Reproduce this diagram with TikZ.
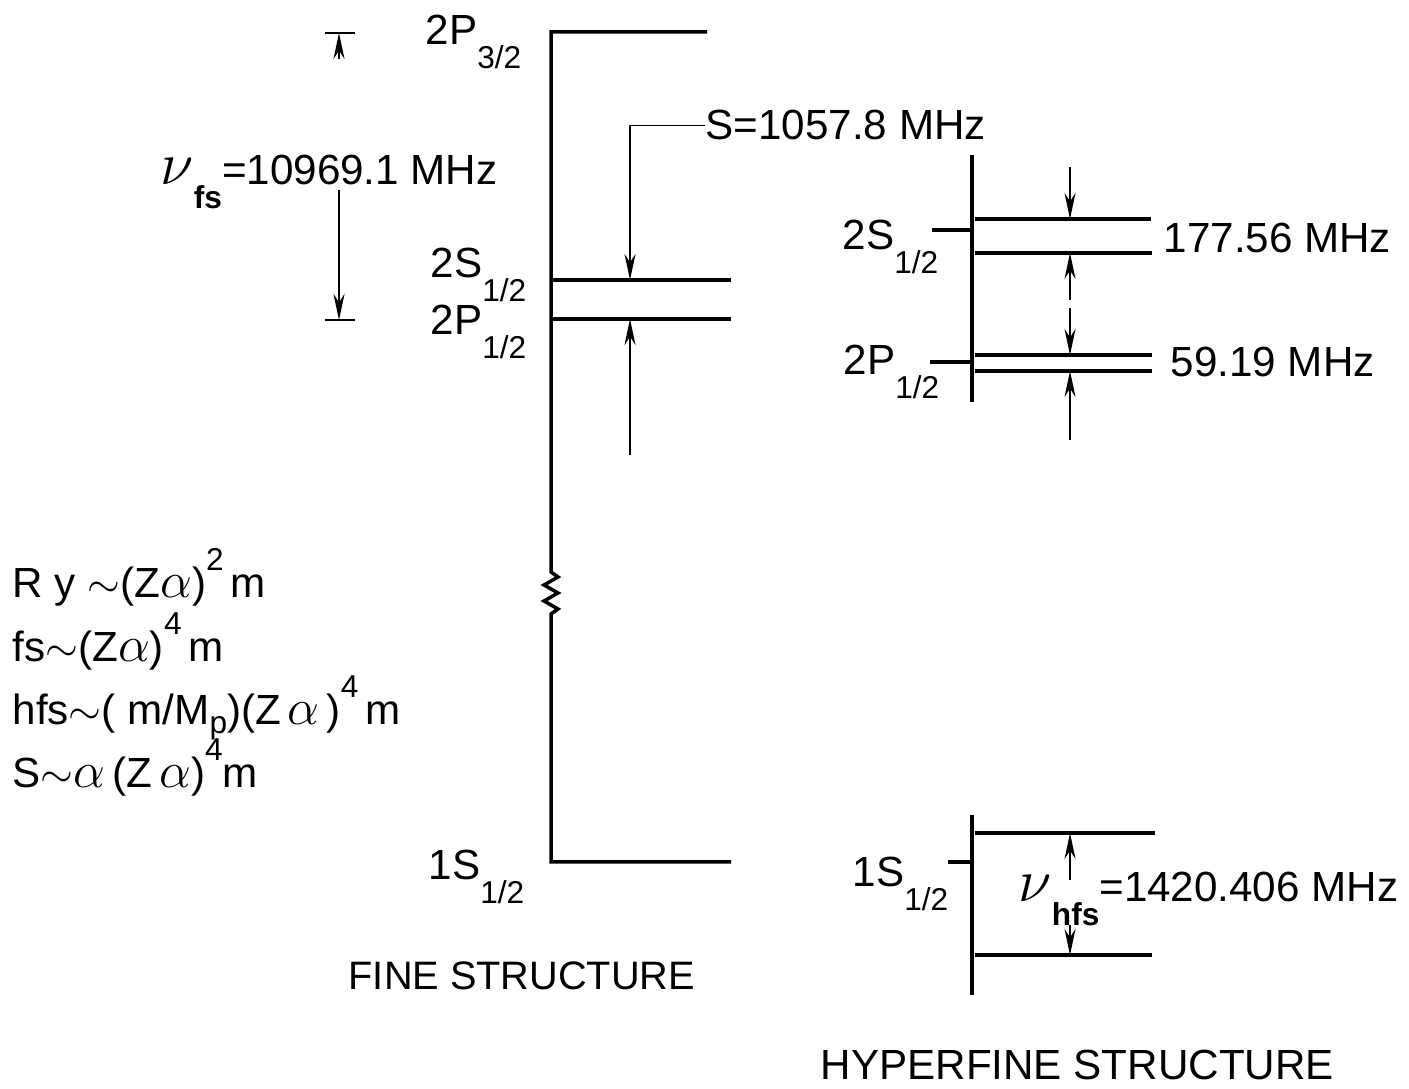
\documentclass[tikz,border=0pt]{standalone}
\usepackage{fontspec}
\setmainfont{Liberation Sans}
\usetikzlibrary{arrows.meta}

\newcommand{\lsub}[1]{\raisebox{-0.55em}{\fontsize{9}{9}\selectfont #1}}
\newcommand{\lsup}[1]{\raisebox{0.65em}{\fontsize{9}{9}\selectfont #1}}
\newcommand{\bignu}{{\fontsize{19}{19}\selectfont$\nu$}}
\newcommand{\al}{{\fontsize{14}{14}\selectfont$\alpha$}}

\tikzset{
  level/.style={line width=1pt},
  gap/.style={line width=0.5pt,-{Stealth[length=2.6mm,width=1.1mm]}},
  thinline/.style={line width=0.5pt},
  lbl/.style={font=\fontsize{12}{14}\selectfont,inner sep=0pt,anchor=base west},
}

\begin{document}
\begin{tikzpicture}
  \useasboundingbox[fill=white] (0,0) rectangle (14.09,10.89);
  % fine structure levels
  \coordinate (P32a) at (5.51,10.57); \coordinate (P32b) at (7.07,10.57);
  \coordinate (S2a) at (5.51,8.09);   \coordinate (S2b) at (7.31,8.09);
  \coordinate (P12a) at (5.51,7.70);  \coordinate (P12b) at (7.31,7.70);
  \coordinate (S1a) at (5.51,2.27);   \coordinate (S1b) at (7.31,2.27);
  \draw[level] (P32b) -- (P32a) -- (5.51,5.17) -- (5.58,5.12) -- (5.44,5.04)
        -- (5.58,4.96) -- (5.44,4.88) -- (5.58,4.80) -- (5.51,4.75) -- (S1a) -- (S1b);
  \draw[level] (S2a) -- (S2b);
  \draw[level] (P12a) -- (P12b);
  \node[lbl] (fP32) at (4.25,10.44) {2P\lsub{3/2}};
  \node[lbl] (fS2)  at (4.30,8.11)  {2S\lsub{1/2}};
  \node[lbl] (fP12) at (4.30,7.54)  {2P\lsub{1/2}};
  \node[lbl] (fS1)  at (4.28,2.09)  {1S\lsub{1/2}};
  % Lamb shift
  \node[lbl] (Slbl) at (7.05,9.49) {S=1057.8 MHz};
  \coordinate (Sdown) at (6.30,8.09);
  \coordinate (Sup) at (6.30,6.34);
  \draw[gap] (Slbl.west) -| (Sdown);
  \draw[gap] (Sup) -- (Sup |- P12a);
  % fine structure splitting
  \node[lbl] (fslbl) at (1.60,9.04) {\bignu\lsub{\bfseries fs}=10969.1 MHz};
  \coordinate (fsTop) at (3.39,10.56);
  \coordinate (fsBot) at (3.39,7.69);
  \draw[thinline] (3.25,10.56) -- (3.55,10.56);
  \draw[thinline] (3.25,7.69) -- (3.55,7.69);
  \draw[gap] (3.39,10.30) -- (fsTop);
  \draw[gap] (3.39,8.99) -- (fsBot);
  % order of magnitude
  \node[lbl] (ry)  at (0.12,4.91) {R y $\sim$(Z\al)\lsup{2}\,m};
  \node[lbl] (fs)  at (0.12,4.27) {fs$\sim$(Z\al)\lsup{4}\,m};
  \node[lbl] (hfs) at (0.12,3.64) {hfs$\sim$( m/M\raisebox{-0.2em}{\fontsize{9}{9}\selectfont p})(Z\,\al\,)\lsup{4}\,m};
  \node[lbl] (lmb) at (0.12,3.01) {S$\sim$\al\,(Z\,\al)\lsup{4}m};
  \node[lbl,font=\fontsize{11.3}{14}\selectfont] (fine) at (3.48,0.99) {FINE STRUCTURE};
  % hyperfine n=2
  \draw[level] (9.72,9.34) -- (9.72,6.87);
  \draw[level] (9.32,8.59) -- (9.72,8.59);
  \draw[level] (9.30,7.27) -- (9.72,7.27);
  \coordinate (hS2t) at (10.70,8.70); \coordinate (hS2b) at (10.70,8.36);
  \coordinate (hP2t) at (10.70,7.34); \coordinate (hP2b) at (10.70,7.18);
  \draw[level] (9.75,8.70) -- (11.51,8.70);
  \draw[level] (9.75,8.36) -- (11.52,8.36);
  \draw[level] (9.75,7.34) -- (11.52,7.34);
  \draw[level] (9.75,7.18) -- (11.52,7.18);
  \draw[gap] (10.70,9.22) -- (hS2t);
  \draw[gap] (10.70,7.89) -- (hS2b);
  \draw[gap] (10.70,7.81) -- (hP2t);
  \draw[gap] (10.70,6.49) -- (hP2b);
  \node[lbl] (hS2) at (8.42,8.39) {2S\lsub{1/2}};
  \node[lbl] (hP2) at (8.43,7.14) {2P\lsub{1/2}};
  \node[lbl] (s177) at (11.63,8.36) {177.56 MHz};
  \node[lbl] (s59)  at (11.70,7.12) {59.19 MHz};
  % hyperfine n=1
  \draw[level] (9.72,2.74) -- (9.72,0.94);
  \draw[level] (9.48,2.27) -- (9.72,2.27);
  \coordinate (h1t) at (10.70,2.56); \coordinate (h1b) at (10.70,1.34);
  \draw[level] (9.75,2.56) -- (11.55,2.56);
  \draw[level] (9.75,1.34) -- (11.52,1.34);
  \draw[gap] (10.70,2.09) -- (h1t);
  \draw[gap] (10.70,1.64) -- (h1b);
  \node[lbl] (hS1) at (8.52,2.02) {1S\lsub{1/2}};
  \node[lbl] (hfslbl) at (10.18,1.87) {\bignu\lsub{\bfseries hfs}=1420.406 MHz};
  \node[lbl] (hyper) at (8.20,0.09) {HYPERFINE STRUCTURE};
\end{tikzpicture}
\end{document}
